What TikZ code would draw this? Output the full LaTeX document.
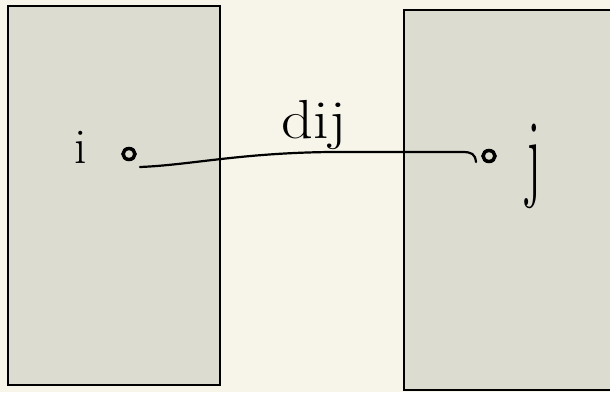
\documentclass[tikz,border=0pt]{standalone}
\definecolor{paper}{HTML}{F7F5E9}
\definecolor{boxfill}{HTML}{DDDCD1}
\tikzset{
  region/.style={draw=black, fill=boxfill, line width=2pt},
  hand/.style={inner sep=0pt, font=\fontsize{50}{52}\selectfont},
  pt/.style={ellipse, draw=black, line width=3.5pt, minimum width=12pt, minimum height=11pt, inner sep=0pt},
  link/.style={draw=black, line width=2.2pt, line cap=round}
}
\usetikzlibrary{shapes.geometric}
\begin{document}
\begin{tikzpicture}[x=1pt, y=-1pt]
\useasboundingbox (0,0) rectangle (610,392);
\fill[paper] (0,0) rectangle (610,392);
\node[region, minimum width=212pt, minimum height=379pt, anchor=north west, inner sep=0pt] (left) at (7,5) {};
\node[region, minimum width=215pt, minimum height=380pt, anchor=north west, inner sep=0pt] (right) at (403,9) {};
\node[pt] (pi) at (129,154) {};
\node[pt] (pj) at (489,156) {};
\node[hand] (li) at (81,147) {i};
\node[hand, yscale=2.0, xscale=1.1] (lj) at (534,166) {j};
\node[hand, xscale=1.25, yscale=1.1] (ld) at (314,125) {dij};
\coordinate (a) at ([shift={(11,13)}]pi.center);
\coordinate (b) at ([shift={(-13,6)}]pj.center);
\draw[link] (a) .. controls (190,165) and (240,153) .. (330,152) -- (462,152) .. controls (472,152) and (475,154) .. (b);
\end{tikzpicture}
\end{document}
